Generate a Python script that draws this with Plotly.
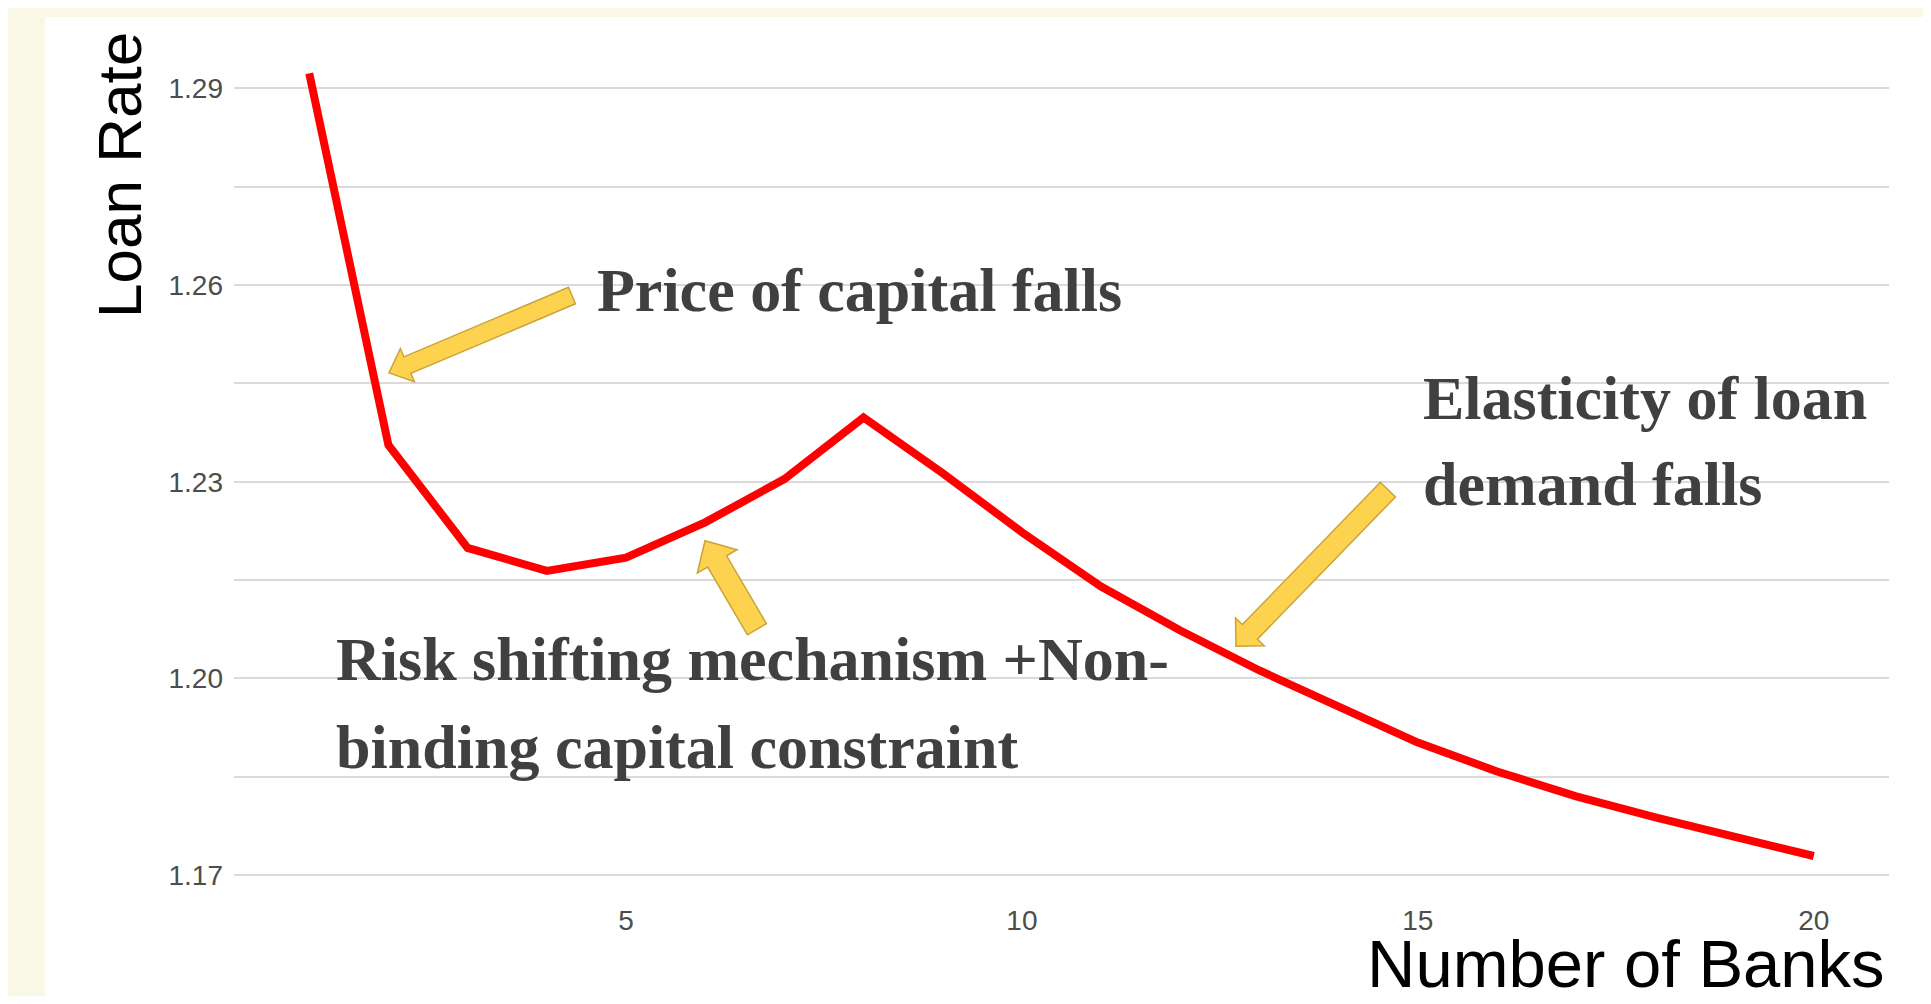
import plotly.graph_objects as go

# number of banks vs. equilibrium loan rate
N_BANKS = [1, 2, 3, 4, 5, 6, 7, 8, 9, 10, 11, 12, 13, 14, 15, 16, 17, 18, 19, 20]
LOAN_RATE = [1.2923, 1.2356, 1.2199, 1.2164, 1.2184, 1.2238, 1.2304, 1.2398,
             1.2313, 1.2223, 1.2140, 1.2073, 1.2012, 1.1956, 1.1902, 1.1858,
             1.1820, 1.1788, 1.1757, 1.1729]

Y_TICKS = [1.17, 1.20, 1.23, 1.26, 1.29]
Y_TICK_LABELS = ["1.17", "1.20", "1.23", "1.26", "1.29"]
Y_MINOR = [1.185, 1.215, 1.245, 1.275]
X_TICKS = [5, 10, 15, 20]
X_TICK_LABELS = ["5", "10", "15", "20"]

# annotation text lines, anchored (left, middle) in data units
NOTE_TEXT = ["Price of capital falls",
             "Risk shifting mechanism +Non-",
             "binding capital constraint",
             "Elasticity of loan",
             "demand falls"]
NOTE_X = [4.61, 1.31, 1.31, 15.04, 15.04]
NOTE_Y = [1.2593, 1.2029, 1.1896, 1.2427, 1.2296]

# block arrows: tail -> tip in data units
ARROW_TAIL = [(4.318, 1.2584), (6.654, 1.2075), (14.622, 1.2288)]
ARROW_TIP = [(2.007, 1.2466), (5.998, 1.2210), (12.703, 1.2049)]

# the page body has an 8px margin, so the figure is drawn 8px smaller
OFF = 8
W, H = 1931 - 2 * OFF, 1004 - 2 * OFF
ML, MR, MT, MB = 234 - OFF, 1931 - 1889 - OFF, 34 - OFF, 1004 - 896 - OFF
PW, PH = W - ML - MR, H - MT - MB
XR = [0.05, 20.95]
YR = [1.1668, 1.2983]


def to_px(x, y):
    return ((x - XR[0]) / (XR[1] - XR[0]) * PW, (y - YR[0]) / (YR[1] - YR[0]) * PH)


def to_data(px, py):
    return (XR[0] + px / PW * (XR[1] - XR[0]), YR[0] + py / PH * (YR[1] - YR[0]))


def page_x(px):
    return (px - OFF - ML) / PW


def page_y(py):
    return (H - MB - (py - OFF)) / PH


def block_arrow(tail, tip, shaft, head_w, head_l):
    tx, ty = to_px(*tail)
    hx, hy = to_px(*tip)
    dx, dy = hx - tx, hy - ty
    n = (dx ** 2 + dy ** 2) ** 0.5
    dx, dy = dx / n, dy / n
    nx, ny = -dy, dx
    bx, by = hx - dx * head_l, hy - dy * head_l
    pts = [
        (tx + nx * shaft / 2, ty + ny * shaft / 2),
        (bx + nx * shaft / 2, by + ny * shaft / 2),
        (bx + nx * head_w / 2, by + ny * head_w / 2),
        (hx, hy),
        (bx - nx * head_w / 2, by - ny * head_w / 2),
        (bx - nx * shaft / 2, by - ny * shaft / 2),
        (tx - nx * shaft / 2, ty - ny * shaft / 2),
    ]
    pts = [to_data(px, py) for px, py in pts]
    return "M " + " L ".join(f"{x:.4f},{y:.5f}" for x, y in pts) + " Z"


fig = go.Figure()
fig.add_trace(go.Scatter(
    x=N_BANKS, y=LOAN_RATE, mode="lines",
    line=dict(color="#FF0000", width=8),
    hoverinfo="skip", showlegend=False,
))

# white panel over the cream page
fig.add_shape(type="rect", xref="paper", yref="paper", layer="below",
              x0=page_x(45), x1=page_x(1940), y0=page_y(1010), y1=page_y(17),
              fillcolor="white", line=dict(width=0))

arrow_sizes = [(18, 36, 20), (22, 46, 24), (21, 40, 20)]
for tail, tip, (shaft, head_w, head_l) in zip(ARROW_TAIL, ARROW_TIP, arrow_sizes):
    fig.add_shape(type="path", xref="x", yref="y", layer="above",
                  path=block_arrow(tail, tip, shaft, head_w, head_l),
                  fillcolor="#FDD24E", line=dict(color="#C9A43A", width=1.5))

for text, x, y in zip(NOTE_TEXT, NOTE_X, NOTE_Y):
    fig.add_annotation(x=x, y=y, xref="x", yref="y", text=text, showarrow=False,
                       xanchor="left", yanchor="middle",
                       font=dict(family="Liberation Serif, Times New Roman, serif",
                                 size=62, color="#404040", weight="bold"))

fig.add_annotation(text="Loan Rate", xref="paper", yref="paper",
                   x=page_x(119), y=page_y(30),
                   xanchor="center", yanchor="top", textangle=-90, showarrow=False,
                   font=dict(family="Liberation Sans, Arial, sans-serif", size=62, color="black"))
fig.add_annotation(text="Number of Banks", xref="paper", yref="paper",
                   x=page_x(1887), y=page_y(964),
                   xanchor="right", yanchor="middle", showarrow=False,
                   font=dict(family="Liberation Sans, Arial, sans-serif", size=67, color="black"))

tick_font = dict(family="Liberation Sans, Arial, sans-serif", size=28, color="#4D4D4D")
fig.update_layout(
    width=W, height=H,
    margin=dict(l=ML, r=MR, t=MT, b=MB, pad=0),
    paper_bgcolor="#F9F7E6",
    plot_bgcolor="white",
    xaxis=dict(range=XR, tickvals=X_TICKS, ticktext=X_TICK_LABELS, showgrid=False,
               zeroline=False, showline=False, ticks="", tickfont=tick_font,
               ticklabelstandoff=5),
    yaxis=dict(range=YR, tickvals=Y_TICKS, ticktext=Y_TICK_LABELS, showgrid=True,
               gridcolor="#DADADA", gridwidth=2, zeroline=False, showline=False,
               ticks="", tickfont=tick_font, ticklabelstandoff=10,
               minor=dict(tickvals=Y_MINOR, showgrid=True, gridcolor="#DADADA", gridwidth=2)),
)

fig.write_html("out.html")
